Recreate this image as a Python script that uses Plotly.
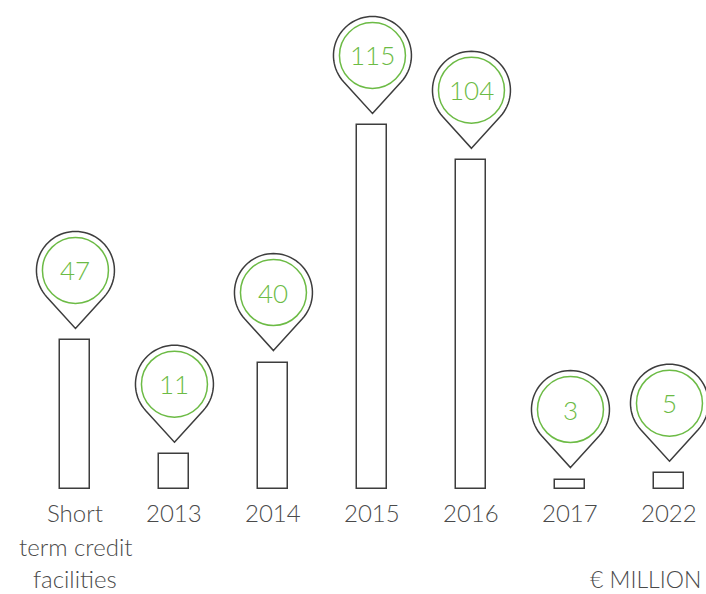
import math
import plotly.graph_objects as go

categories = ["Short term credit facilities", "2013", "2014", "2015", "2016", "2017", "2022"]
label_lines = [["Short", "term credit", "facilities"], ["2013"], ["2014"], ["2015"], ["2016"], ["2017"], ["2022"]]
values = [47, 11, 40, 115, 104, 3, 5]
unit_label = "€ MILLION"

GREEN = "#6cbb45"
DARK = "#3d3d3d"
TEXT = "#4a4a4a"
FONT = "Lato"

xs = list(range(len(categories)))

fig = go.Figure()
fig.add_trace(go.Bar(
    x=xs, y=values, width=0.303,
    marker=dict(color="white", line=dict(color=DARK, width=1.5)),
    hoverinfo="skip", showlegend=False,
))

# pin geometry (pixels, relative to bar top)
R = 39.0
C = 70.0       # circle centre above bar top
TIP = 12.0     # tip above bar top
d = C - TIP
phi = math.acos(R / d)
start = -math.pi / 2 + phi
end = 3 * math.pi / 2 - phi
n = 60
pts = [(0.0, TIP)]
for k in range(n + 1):
    a = start + (end - start) * k / n
    pts.append((R * math.cos(a), C + R * math.sin(a)))
path = "M " + " L ".join(f"{px:.2f},{py:.2f}" for px, py in pts) + " Z"

for i, v in enumerate(values):
    fig.add_shape(type="path", path=path, xref="x", yref="y",
                  xsizemode="pixel", ysizemode="pixel", xanchor=i, yanchor=v,
                  line=dict(color=DARK, width=1.5), fillcolor="white", layer="above")
    r2 = 33
    fig.add_shape(type="circle", xref="x", yref="y",
                  xsizemode="pixel", ysizemode="pixel", xanchor=i, yanchor=v,
                  x0=-r2, x1=r2, y0=C - r2, y1=C + r2,
                  line=dict(color=GREEN, width=1.5), layer="above")
    fig.add_annotation(x=i, y=v, xref="x", yref="y", text=str(v), showarrow=False,
                       yshift=C, yanchor="middle",
                       font=dict(family=FONT, size=26, color=GREEN, weight=300))

shifts = [-23, -57, -89]
for i, lines in enumerate(label_lines):
    for j, line in enumerate(lines):
        fig.add_annotation(x=i, y=0, xref="x", yref="y", text=line, showarrow=False,
                           yanchor="middle", yshift=shifts[j], borderpad=0,
                           font=dict(family=FONT, size=24, color=TEXT, weight=300))

fig.add_annotation(x=1, y=0, xref="paper", yref="paper", text=unit_label, showarrow=False,
                   xanchor="right", yanchor="middle", yshift=-90, xshift=-4, borderpad=0,
                   font=dict(family=FONT, size=23, color=TEXT, weight=300))

fig.update_layout(
    width=706, height=594,
    margin=dict(l=0, r=0, t=0, b=105),
    plot_bgcolor="white", paper_bgcolor="white",
    xaxis=dict(range=[-0.762, 6.369], visible=False, fixedrange=True),
    yaxis=dict(range=[0, 154.7], visible=False, fixedrange=True),
    bargap=0,
)
fig.write_html("out.html", config={"displayModeBar": False},
               post_script="document.body.style.margin='0px';document.body.style.overflow='hidden';")
